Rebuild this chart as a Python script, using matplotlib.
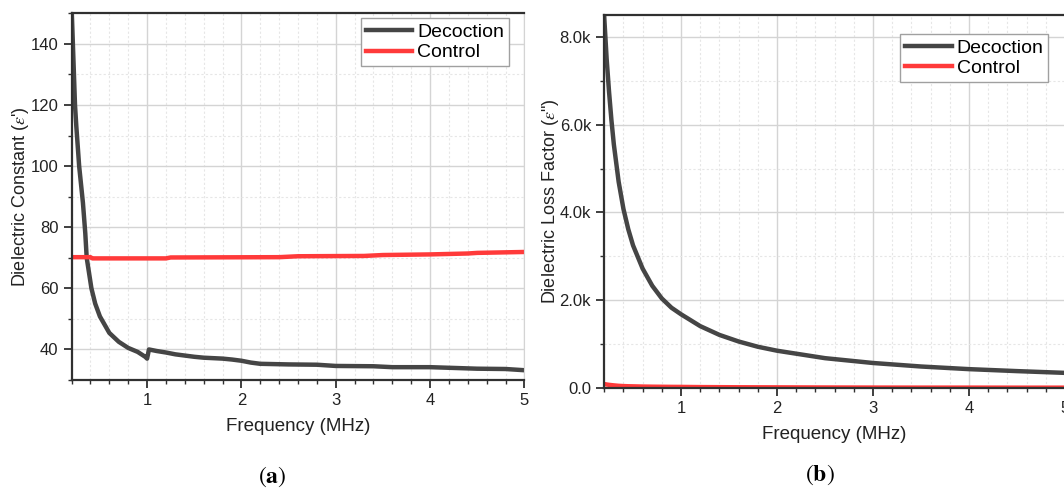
import numpy as np
import matplotlib
matplotlib.use('Agg')
import matplotlib.pyplot as plt
from matplotlib.ticker import MultipleLocator, FuncFormatter

plt.rcParams['font.family'] = ['Liberation Sans', 'DejaVu Sans']
plt.rcParams['mathtext.fontset'] = 'stix'

# (a) dielectric constant
freq_a_dec = [0.2, 0.236, 0.25, 0.28, 0.32, 0.345, 0.36, 0.41, 0.45, 0.5, 0.6, 0.7, 0.8, 0.9,
              0.98, 1.0, 1.02, 1.1, 1.2, 1.3, 1.4, 1.5, 1.6, 1.8, 1.9, 2.0, 2.1, 2.2,
              2.5, 2.8, 3.0, 3.4, 3.6, 4.0, 4.2, 4.5, 4.8, 5.0]
eps_a_dec = [152, 120, 113, 100, 88, 78, 70, 60, 55, 50.8, 45.4, 42.5, 40.5, 39.2,
             37.6, 37.0, 40.0, 39.5, 39.0, 38.4, 38.0, 37.6, 37.3, 37.0, 36.7, 36.3, 35.7, 35.3,
             35.1, 35.0, 34.6, 34.5, 34.2, 34.2, 34.0, 33.7, 33.6, 33.2]
freq_a_ctl = [0.2, 0.4, 0.42, 1.2, 1.25, 2.4, 2.6, 3.3, 3.5, 4.0, 4.4, 4.5, 5.0]
eps_a_ctl = [70.2, 70.2, 69.8, 69.8, 70.1, 70.2, 70.5, 70.6, 70.9, 71.1, 71.4, 71.6, 71.9]

# (b) dielectric loss factor
freq_b = [0.2, 0.225, 0.25, 0.275, 0.3, 0.35, 0.4, 0.45, 0.5, 0.6, 0.7, 0.8, 0.9, 1.0, 1.2,
          1.4, 1.6, 1.8, 2.0, 2.5, 3.0, 3.5, 4.0, 4.5, 5.0]
loss_b_dec = [8450, 7500, 6750, 6100, 5550, 4700, 4080, 3620, 3250, 2720, 2330, 2040, 1830,
              1680, 1410, 1210, 1060, 940, 850, 680, 570, 490, 430, 385, 345]
loss_b_ctl = [90, 80, 72, 66, 60, 50, 44, 40, 38, 33, 30, 28, 26, 25, 21, 19, 17, 16, 15,
              12, 10, 9, 9, 8, 8]

dec_color = '#454545'
ctl_color = '#ff3a3a'

fig = plt.figure(figsize=(10.64, 4.88), dpi=100)
ax1 = fig.add_axes([0.0673, 0.2213, 0.4256, 0.7514])
ax2 = fig.add_axes([0.5679, 0.2049, 0.4331, 0.7643])


def style(ax):
    ax.set_xlim(0.2, 5)
    ax.xaxis.set_major_locator(MultipleLocator(1))
    ax.xaxis.set_minor_locator(MultipleLocator(0.2))
    ax.grid(which='major', color='#d4d4d4', lw=1.0)
    ax.grid(which='minor', color='#e6e6e6', lw=0.8, ls=(0, (2, 2)))
    ax.set_axisbelow(True)
    for s in ['left', 'bottom', 'top']:
        ax.spines[s].set_color('#303030')
        ax.spines[s].set_linewidth(1.6)
    ax.spines['right'].set_color('#d4d4d4')
    ax.tick_params(which='major', direction='out', length=6, width=1.3,
                   color='#303030', labelsize=12, labelcolor='#222222')
    ax.tick_params(which='minor', direction='out', length=3, width=1.0, color='#303030')
    ax.set_xlabel('Frequency (MHz)', fontsize=13.5, color='#222222', labelpad=7)


def add_legend(ax, anchor):
    leg = ax.legend(loc='upper right', bbox_to_anchor=anchor, borderaxespad=0,
                    fontsize=14, fancybox=False, handlelength=2.4, handletextpad=0.25,
                    borderpad=0.25, labelspacing=0.15, framealpha=1)
    leg.get_frame().set_edgecolor('#a0a0a0')


ax1.plot(freq_a_dec, eps_a_dec, color=dec_color, lw=3.2, label='Decoction')
ax1.plot(freq_a_ctl, eps_a_ctl, color=ctl_color, lw=3.2, label='Control')
style(ax1)
ax1.set_ylim(30, 150)
ax1.yaxis.set_minor_locator(MultipleLocator(10))
ax1.set_yticks([40, 60, 80, 100, 120, 140])
ax1.set_ylabel(r"Dielectric Constant ($\varepsilon$')", fontsize=13, color='#222222', labelpad=0)
add_legend(ax1, (0.966, 0.986))

ax2.plot(freq_b, loss_b_dec, color=dec_color, lw=3.2, label='Decoction')
ax2.plot(freq_b, loss_b_ctl, color=ctl_color, lw=3.2, label='Control')
style(ax2)
ax2.set_ylim(0, 8500)
ax2.yaxis.set_major_locator(MultipleLocator(2000))
ax2.yaxis.set_minor_locator(MultipleLocator(1000))
ax2.yaxis.set_major_formatter(FuncFormatter(lambda v, p: '0.0' if v == 0 else f'{v/1000:.1f}k'))
ax2.set_ylabel(r'Dielectric Loss Factor ($\varepsilon$")', fontsize=13, color='#222222', labelpad=-1)
add_legend(ax2, (0.964, 0.949))

fig.text(272 / 1064, 1 - 477 / 488, r'$(\mathbf{a})$', ha='center', va='center', fontsize=17)
fig.text(820 / 1064, 1 - 475 / 488, r'$(\mathbf{b})$', ha='center', va='center', fontsize=17)

fig.savefig('out.png', dpi=100)
